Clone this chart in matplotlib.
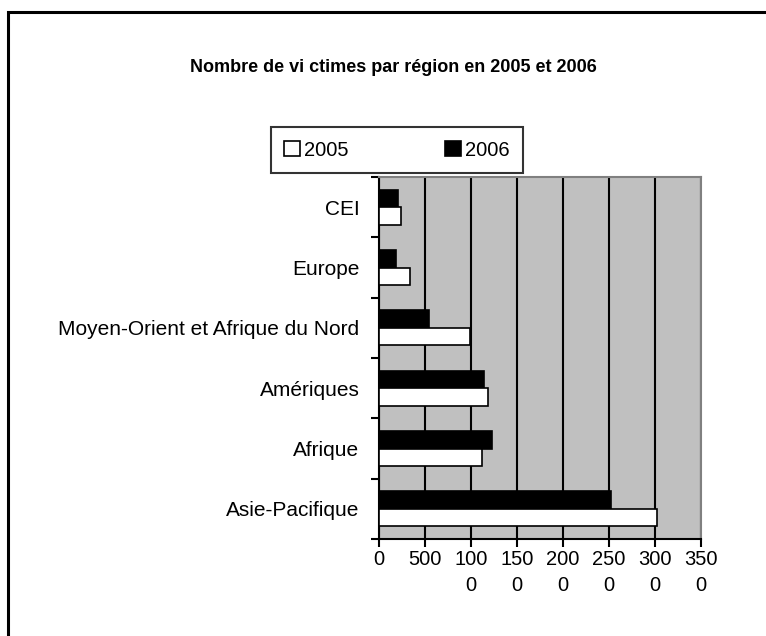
import matplotlib.pyplot as plt
from matplotlib.patches import Rectangle
from matplotlib import font_manager
import numpy as np

# --- Données ---
regions = ['Asie-Pacifique', 'Afrique', 'Amériques',
           'Moyen-Orient et Afrique du Nord', 'Europe', 'CEI']
victimes_2005 = [3025, 1115, 1180, 990, 335, 235]
victimes_2006 = [2520, 1230, 1145, 545, 180, 210]
xticks = [0, 500, 1000, 1500, 2000, 2500, 3000, 3500]
xtick_labels = ['0', '500', '100\n0', '150\n0', '200\n0', '250\n0', '300\n0', '350\n0']

# police étroite si disponible
noms = {f.name for f in font_manager.fontManager.ttflist}
police = 'Liberation Sans Narrow' if 'Liberation Sans Narrow' in noms else 'Liberation Sans'
plt.rcParams['font.family'] = [police, 'DejaVu Sans']

W, H = 766, 636
fig = plt.figure(figsize=(W / 100, H / 100), dpi=100)

# cadre extérieur (seuls les bords haut et gauche sont visibles)
fig.add_artist(Rectangle((8 / W, -0.1), 1.2, 1 - 12 / H + 0.1, transform=fig.transFigure,
                         fill=False, edgecolor='black', linewidth=2.2))

ax = fig.add_axes([379 / W, 1 - 539 / H, (701 - 379) / W, (539 - 177) / H])
ax.set_facecolor('#c0c0c0')

y = np.arange(len(regions))
h = 0.29
ax.barh(y + h / 2, victimes_2006, height=h, color='black', edgecolor='black',
        linewidth=1.2, label='2006', zorder=3)
ax.barh(y - h / 2, victimes_2005, height=h, color='white', edgecolor='black',
        linewidth=1.2, label='2005', zorder=3)

ax.set_xlim(0, 3500)
ax.set_ylim(-0.5, len(regions) - 0.5)
ax.set_xticks(xticks)
ax.set_xticklabels(xtick_labels, fontsize=14.5, linespacing=1.45)
ax.xaxis.grid(True, color='black', linewidth=1.5, zorder=1)
ax.set_axisbelow(True)

# graduations aux limites des catégories, étiquettes au centre
ax.set_yticks(np.arange(-0.5, len(regions), 1.0))
ax.set_yticklabels([])
ax.set_yticks(y, minor=True)
ax.set_yticklabels(regions, minor=True, fontsize=15)
ax.tick_params(axis='y', which='minor', length=0, pad=14)
ax.tick_params(axis='y', which='major', length=6, width=1.5, direction='out')
ax.tick_params(axis='x', length=6, width=1.5, direction='out', pad=2)

for cote in ['left', 'bottom']:
    ax.spines[cote].set_linewidth(1.5)
for cote in ['top', 'right']:
    ax.spines[cote].set_color('#808080')
    ax.spines[cote].set_linewidth(1.5)

fig.text(393 / W, 1 - 68 / H, 'Nombre de vi ctimes par région en 2005 et 2006',
         ha='center', va='center', fontsize=13, fontweight='bold')

poignees, etiquettes = ax.get_legend_handles_labels()
leg = fig.legend(poignees[::-1], etiquettes[::-1], ncol=2, loc='center',
                 bbox_to_anchor=(397 / W, 1 - 150 / H), fontsize=14.5, frameon=True,
                 fancybox=False, edgecolor='black', handlelength=0.8, handleheight=0.8,
                 handletextpad=0.2, columnspacing=4.8, borderpad=0.65)
leg.get_frame().set_linewidth(1.5)

fig.savefig('out.png', dpi=100)
